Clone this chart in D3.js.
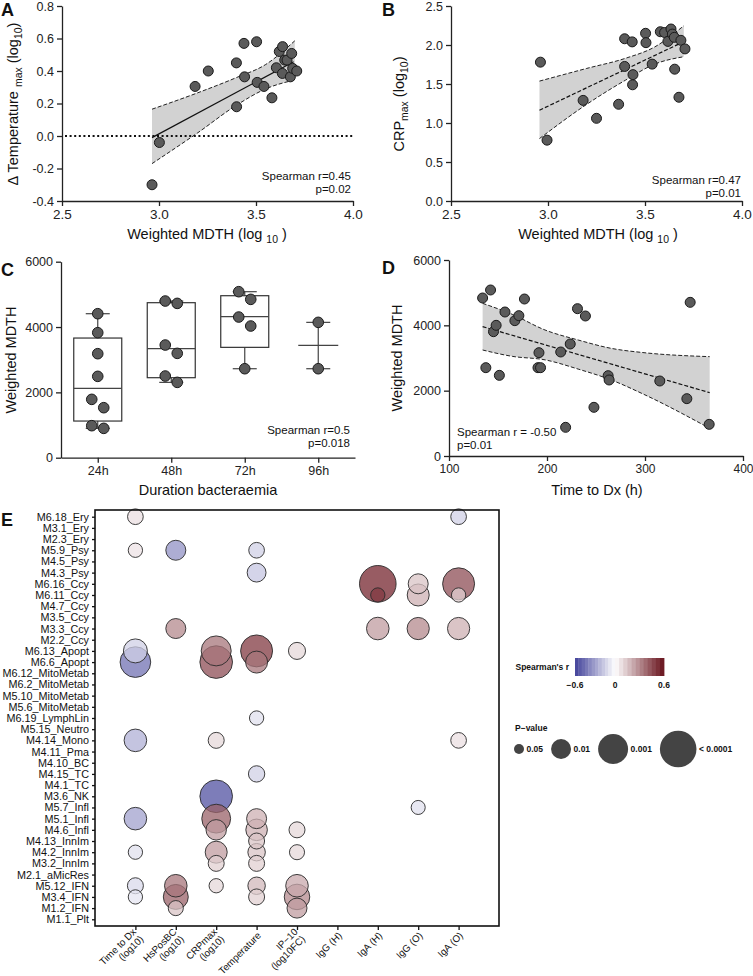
<!DOCTYPE html>
<html><head><meta charset="utf-8">
<script src="https://cdn.jsdelivr.net/npm/d3@7"></script>
<style>
body{margin:0;background:#fff}
svg{display:block;font-family:"Liberation Sans",Arial,Helvetica,sans-serif}
</style></head><body>
<svg id="c" width="753" height="976"></svg>
<script>
// ---------------- DATA ----------------
// Panel A
const aX = [2.964,3.002,3.186,3.254,3.399,3.400,3.438,3.441,3.503,3.506,3.541,3.582,3.605,3.620,3.637,3.636,3.648,3.660,3.677,3.684,3.689,3.710];
const aY = [-0.30,-0.04,0.305,0.40,0.45,0.18,0.57,0.364,0.58,0.33,0.305,0.235,0.42,0.52,0.55,0.385,0.467,0.467,0.364,0.508,0.416,0.40];
const aFitX = [2.964,3.694], aFitY = [-0.01,0.457];
const aBandX = [2.964,3.2,3.4,3.55,3.7];
const aBandHi = [0.165,0.266,0.36,0.44,0.586];
const aBandLo = [-0.17,0.02,0.19,0.29,0.345];
const abXTicks = [2.5,3.0,3.5,4.0];
const aYTicks = [-0.4,-0.2,0.0,0.2,0.4,0.6,0.8];
// Panel B
const bX = [2.961,2.995,3.181,3.25,3.364,3.395,3.395,3.434,3.438,3.436,3.503,3.505,3.537,3.579,3.601,3.618,3.634,3.641,3.651,3.653,3.675,3.685,3.706];
const bY = [1.78,0.78,1.29,1.06,1.24,2.08,1.725,2.04,1.62,1.49,2.15,2.03,1.755,2.17,2.16,2.046,2.205,2.14,2.098,1.69,1.33,2.06,1.95];
const bFitX = [2.956,3.70], bFitY = [1.164,2.043];
const bBandX = [2.956,3.2,3.4,3.55,3.7];
const bBandHi = [1.537,1.70,1.83,1.975,2.247];
const bBandLo = [0.80,1.24,1.55,1.755,1.85];
const bYTicks = [0,0.5,1.0,1.5,2.0,2.5];
// Panel C
const cCats = ["24h","48h","72h","96h"];
const cVals = [
  [4408,3827,3184,2490,1786,1531,980,898],
  [4796,4724,3449,3194,2500,2306],
  [5082,4847,4306,4031,2724],
  [4143,2724]
];
const cQ1 = [1122,2449,3378,null];
const cMed = [2122,3337,4316,3439];
const cQ3 = [3663,4745,4959,null];
const cMin = [898,2306,2724,2724];
const cMax = [4408,4796,5082,4143];
const cdYTicks = [0,2000,4000,6000];
// Panel D
const dX = [134.3,142.4,137.6,145.4,148.1,151.4,157.1,167.2,171.3,177.0,191.8,190.8,193.4,214.0,223.7,219.0,231.1,239.2,247.9,262.4,263.4,315.1,342.7,346.1,365.5];
const dY = [4837,5082,2704,3806,4000,2469,4408,4143,4296,4806,3163,2704,2704,3184,3429,878,4510,4286,1490,2459,2327,2296,1755,4704,969];
const dFitX = [134.3,366], dFitY = [3959,1939];
const dBandX = [134.3,164.5,198,231.8,265.4,299,366];
const dBandHi = [4673,4337,3857,3551,3296,3163,3041];
const dBandLo = [3245,3051,2943,2661,2330,1885,847];
const dXTicks = [100,200,300,400];
// Panel E
const eRows = ["M6.18_Ery","M3.1_Ery","M2.3_Ery","M5.9_Psy","M4.5_Psy","M4.3_Psy","M6.16_Ccy","M6.11_Ccy","M4.7_Ccy","M3.5_Ccy","M3.3_Ccy","M2.2_Ccy","M6.13_Apopt","M6.6_Apopt","M6.12_MitoMetab","M6.2_MitoMetab","M5.10_MitoMetab","M5.6_MitoMetab","M6.19_LymphLin","M5.15_Neutro","M4.14_Mono","M4.11_Pma","M4.10_BC","M4.15_TC","M4.1_TC","M3.6_NK","M5.7_Infl","M5.1_Infl","M4.6_Infl","M4.13_InnIm","M4.2_InnIm","M3.2_InnIm","M2.1_aMicRes","M5.12_IFN","M3.4_IFN","M1.2_IFN","M1.1_Plt"];
const eCols = ["Time to Dx","HsPosBC","CRPmax","Temperature","IP\u221210","IgG (H)","IgA (H)","IgG (O)","IgA (O)"];
const eColSub = ["(log10)","(log10)","(log10)","","(log10FC)","","","",""];
const eBubRow = ["M6.18_Ery","M6.18_Ery","M5.9_Psy","M5.9_Psy","M5.9_Psy","M4.3_Psy","M6.16_Ccy","M6.16_Ccy","M6.16_Ccy","M6.11_Ccy","M6.11_Ccy","M6.11_Ccy","M3.3_Ccy","M3.3_Ccy","M3.3_Ccy","M3.3_Ccy","M6.13_Apopt","M6.13_Apopt","M6.13_Apopt","M6.13_Apopt","M6.6_Apopt","M6.6_Apopt","M6.6_Apopt","M6.19_LymphLin","M4.14_Mono","M4.14_Mono","M4.14_Mono","M4.15_TC","M3.6_NK","M5.7_Infl","M5.1_Infl","M5.1_Infl","M5.1_Infl","M4.6_Infl","M4.6_Infl","M4.6_Infl","M4.13_InnIm","M4.2_InnIm","M4.2_InnIm","M4.2_InnIm","M4.2_InnIm","M3.2_InnIm","M3.2_InnIm","M5.12_IFN","M5.12_IFN","M5.12_IFN","M5.12_IFN","M5.12_IFN","M3.4_IFN","M3.4_IFN","M3.4_IFN","M3.4_IFN","M1.2_IFN","M1.2_IFN"];
const eBubCol = ["Time to Dx","IgA (O)","Time to Dx","HsPosBC","Temperature","Temperature","IgA (H)","IgG (O)","IgA (O)","IgA (H)","IgG (O)","IgA (O)","HsPosBC","IgA (H)","IgG (O)","IgA (O)","Time to Dx","CRPmax","Temperature","IP\u221210","Time to Dx","CRPmax","Temperature","Temperature","Time to Dx","CRPmax","IgA (O)","Temperature","CRPmax","IgG (O)","Time to Dx","CRPmax","Temperature","CRPmax","Temperature","IP\u221210","Temperature","Time to Dx","CRPmax","Temperature","IP\u221210","CRPmax","Temperature","Time to Dx","HsPosBC","CRPmax","Temperature","IP\u221210","Time to Dx","HsPosBC","Temperature","IP\u221210","HsPosBC","IP\u221210"];
const eBubR = [0.08,-0.15,0.07,-0.35,-0.15,-0.18,0.55,0.15,0.45,0.5,0.2,0.12,0.3,0.25,0.3,0.2,-0.15,0.35,0.5,0.1,-0.45,0.45,0.35,-0.1,-0.25,0.1,0.08,-0.15,-0.55,-0.1,-0.3,0.4,0.2,0.25,0.2,0.1,0.15,-0.1,0.25,0.15,0.1,0.12,0.12,-0.12,0.35,0.1,0.18,0.22,-0.08,0.4,0.12,0.3,0.15,0.25];
const eBubP = [0.02,0.02,0.025,0.01,0.02,0.012,0.0001,0.01,0.0005,0.025,0.0063,0.025,0.01,0.0055,0.006,0.006,0.004,0.001,0.0005,0.016,0.0008,0.0004,0.0063,0.025,0.0055,0.019,0.02,0.018,0.0004,0.026,0.0055,0.0013,0.01,0.009,0.007,0.019,0.019,0.025,0.0063,0.015,0.022,0.019,0.019,0.019,0.0055,0.025,0.015,0.0055,0.025,0.0032,0.019,0.0028,0.022,0.01];
const legP = [0.05,0.01,0.001,0.0001];
const legPLabels = ["0.05","0.01","0.001","< 0.0001"];
const legRTicks = [-0.6,0,0.6];
const legRLabels = ["\u22120.6","0","0.6"];

// ---------------- DRAW ----------------
const FONT = '"Liberation Sans", Arial, Helvetica, sans-serif';
const svg = d3.select("#c");
const INK = "#222";

function styleAxis(g, fs){
  g.select(".domain").attr("stroke",INK).attr("stroke-width",1.3);
  g.selectAll(".tick line").attr("stroke",INK).attr("stroke-width",1.3);
  g.selectAll(".tick text").attr("fill",INK).style("font-size",fs+"px").style("font-family",FONT);
}
function rich(sel, parts, fs){
  let prev=false;
  parts.forEach(([t,sub])=>{
    const ts = sel.append("tspan").text(t);
    if(sub){ ts.style("font-size",(fs*0.72)+"px"); if(!prev) ts.attr("dy", fs*0.3); }
    else if(prev){ ts.attr("dy", -fs*0.3); }
    prev=sub;
  });
}
function panelLabel(t,x,y){
  svg.append("text").attr("x",x).attr("y",y).text(t).style("font-size","18px").style("font-weight","bold").attr("fill","#111");
}
function scatterPanel(g, xs, ys, X, Y, r){
  g.selectAll("circle.pt").data(xs).join("circle").attr("class","pt")
    .attr("cx",(d)=>X(d)).attr("cy",(d,i)=>Y(ys[i])).attr("r",r)
    .attr("fill","#5a5a5a").attr("stroke","#1a1a1a").attr("stroke-width",1);
}
function band(g, bx, lo, hi, X, Y){
  const idx = d3.range(bx.length);
  g.append("path").datum(idx).attr("fill","#d2d2d2")
    .attr("d", d3.area().x(i=>X(bx[i])).y0(i=>Y(lo[i])).y1(i=>Y(hi[i])).curve(d3.curveMonotoneX));
  [lo,hi].forEach(arr=>{
    g.append("path").datum(idx).attr("fill","none").attr("stroke","#222").attr("stroke-width",1)
      .attr("stroke-dasharray","4,2")
      .attr("d", d3.line().x(i=>X(bx[i])).y(i=>Y(arr[i])).curve(d3.curveMonotoneX));
  });
}
function fitLine(g, fx, fy, X, Y, dashed){
  g.append("line").attr("x1",X(fx[0])).attr("x2",X(fx[1])).attr("y1",Y(fy[0])).attr("y2",Y(fy[1]))
    .attr("stroke","#111").attr("stroke-width",1.2).attr("stroke-dasharray",dashed?"4,2":null);
}
function annot(g, x, y, lines, anchor){
  lines.forEach((t,i)=>g.append("text").attr("x",x).attr("y",y+i*12.5).attr("text-anchor",anchor)
    .text(t).style("font-size","11.5px").attr("fill","#111"));
}
function yTitle(g, x, yc, parts, fs){
  const t = g.append("text").attr("transform",`translate(${x},${yc}) rotate(-90)`).attr("text-anchor","middle")
    .style("font-size",fs+"px").attr("fill","#111");
  rich(t, parts, fs);
}
function xTitle(g, xc, y, parts, fs){
  const t = g.append("text").attr("x",xc).attr("y",y).attr("text-anchor","middle")
    .style("font-size",fs+"px").attr("fill","#111");
  rich(t, parts, fs);
}
const f1 = d=>d.toFixed(1);

// ---- Panel A ----
{
  const g = svg.append("g");
  const X = d3.scaleLinear().domain([2.5,4]).range([62,353]);
  const Y = d3.scaleLinear().domain([-0.4,0.8]).range([201,6]);
  band(g, aBandX, aBandLo, aBandHi, X, Y);
  g.append("line").attr("x1",X(2.5)+3).attr("x2",X(4)).attr("y1",Y(0)).attr("y2",Y(0))
    .attr("stroke","#111").attr("stroke-width",1.8).attr("stroke-dasharray","2,2.6");
  fitLine(g, aFitX, aFitY, X, Y, false);
  scatterPanel(g, aX, aY, X, Y, 5);
  const gx = g.append("g").attr("transform","translate(0,201)").call(d3.axisBottom(X).tickValues(abXTicks).tickFormat(f1).tickSize(5).tickSizeOuter(0).tickPadding(3));
  styleAxis(gx, 13.5);
  const gy = g.append("g").attr("transform","translate(62,0)").call(d3.axisLeft(Y).tickValues(aYTicks).tickFormat(f1).tickSize(5).tickSizeOuter(0).tickPadding(3));
  styleAxis(gy, 12.5);
  annot(g, 351, 180, ["Spearman r=0.45","p=0.02"], "end");
  yTitle(g, 18, 104, [["\u0394 Temperature ",0],["max",1],[" (log",0],["10",1],[")",0]], 14.5);
  xTitle(g, 207, 239, [["Weighted MDTH (log ",0],["10",1],[" )",0]], 14.5);
  panelLabel("A", 1, 16);
}
// ---- Panel B ----
{
  const g = svg.append("g");
  const X = d3.scaleLinear().domain([2.5,4]).range([451,742]);
  const Y = d3.scaleLinear().domain([0,2.5]).range([201,6]);
  band(g, bBandX, bBandLo, bBandHi, X, Y);
  fitLine(g, bFitX, bFitY, X, Y, true);
  scatterPanel(g, bX, bY, X, Y, 5);
  const gx = g.append("g").attr("transform","translate(0,201)").call(d3.axisBottom(X).tickValues(abXTicks).tickFormat(f1).tickSize(5).tickSizeOuter(0).tickPadding(3));
  styleAxis(gx, 13.5);
  const gy = g.append("g").attr("transform","translate(451,0)").call(d3.axisLeft(Y).tickValues(bYTicks).tickFormat(f1).tickSize(5).tickSizeOuter(0).tickPadding(3));
  styleAxis(gy, 12.5);
  annot(g, 741, 184, ["Spearman r=0.47","p=0.01"], "end");
  yTitle(g, 404, 104, [["CRP",0],["max",1],[" (log",0],["10",1],[")",0]], 14.5);
  xTitle(g, 598, 239, [["Weighted MDTH (log ",0],["10",1],[" )",0]], 14.5);
  panelLabel("B", 382, 16);
}
// ---- Panel C ----
{
  const g = svg.append("g");
  const X = d3.scalePoint().domain(cCats).range([61,355]).padding(0.5);
  const Y = d3.scaleLinear().domain([0,6000]).range([457.7,261.7]);
  const BW = 48, CW = 24, MW = 40, R = 5.3;
  cCats.forEach((c,i)=>{
    const cx = X(c);
    if(cQ1[i]!==null){
      g.append("line").attr("x1",cx).attr("x2",cx).attr("y1",Y(cQ3[i])).attr("y2",Y(cMax[i])).attr("stroke","#444").attr("stroke-width",1.2);
      g.append("line").attr("x1",cx).attr("x2",cx).attr("y1",Y(cQ1[i])).attr("y2",Y(cMin[i])).attr("stroke","#444").attr("stroke-width",1.2);
      g.append("rect").attr("x",cx-BW/2).attr("y",Y(cQ3[i])).attr("width",BW).attr("height",Y(cQ1[i])-Y(cQ3[i]))
        .attr("fill","#fff").attr("stroke","#333").attr("stroke-width",1.2);
      g.append("line").attr("x1",cx-BW/2).attr("x2",cx+BW/2).attr("y1",Y(cMed[i])).attr("y2",Y(cMed[i])).attr("stroke","#444").attr("stroke-width",1.2);
    } else {
      g.append("line").attr("x1",cx).attr("x2",cx).attr("y1",Y(cMax[i])).attr("y2",Y(cMin[i])).attr("stroke","#444").attr("stroke-width",1.2);
      g.append("line").attr("x1",cx-MW/2).attr("x2",cx+MW/2).attr("y1",Y(cMed[i])).attr("y2",Y(cMed[i])).attr("stroke","#444").attr("stroke-width",1.2);
    }
    [cMin[i],cMax[i]].forEach(v=>g.append("line").attr("x1",cx-CW/2).attr("x2",cx+CW/2).attr("y1",Y(v)).attr("y2",Y(v)).attr("stroke","#444").attr("stroke-width",1.2));
    const vals = cVals[i];
    const order = vals.map((v,k)=>k).sort((a,b)=>vals[b]-vals[a]);
    const off = new Array(vals.length).fill(0);
    let k=0;
    while(k<order.length){
      let j=k;
      while(j+1<order.length && Math.abs(Y(vals[order[j+1]])-Y(vals[order[j]]))<2*R) j++;
      const n=j-k+1;
      for(let m=0;m<n;m++) off[order[k+m]] = n===1?0:(m/(n-1)-0.5)*12;
      k=j+1;
    }
    g.selectAll(null).data(vals).join("circle").attr("cx",(d,k)=>cx+off[k]).attr("cy",d=>Y(d)).attr("r",R)
      .attr("fill","#5a5a5a").attr("stroke","#1a1a1a").attr("stroke-width",1);
  });
  const gx = g.append("g").attr("transform","translate(0,457.7)").call(d3.axisBottom(X).tickSize(5).tickSizeOuter(0).tickPadding(3));
  styleAxis(gx, 12.5);
  const gy = g.append("g").attr("transform","translate(61,0)").call(d3.axisLeft(Y).tickValues(cdYTicks).tickFormat(d=>String(d)).tickSize(5).tickSizeOuter(0).tickPadding(3));
  styleAxis(gy, 12.5);
  annot(g, 350, 434, ["Spearman r=0.5","p=0.018"], "end");
  yTitle(g, 16, 360, [["Weighted MDTH",0]], 14.5);
  xTitle(g, 208, 495, [["Duration bacteraemia",0]], 14.5);
  panelLabel("C", 1, 276);
}
// ---- Panel D ----
{
  const g = svg.append("g");
  const X = d3.scaleLinear().domain([100,400]).range([449,743]);
  const Y = d3.scaleLinear().domain([0,6000]).range([456,260]);
  band(g, dBandX, dBandLo, dBandHi, X, Y);
  fitLine(g, dFitX, dFitY, X, Y, true);
  scatterPanel(g, dX, dY, X, Y, 5);
  const gx = g.append("g").attr("transform","translate(0,456)").call(d3.axisBottom(X).tickValues(dXTicks).tickSize(5).tickSizeOuter(0).tickPadding(3));
  styleAxis(gx, 12);
  const gy = g.append("g").attr("transform","translate(449,0)").call(d3.axisLeft(Y).tickValues(cdYTicks).tickFormat(d=>String(d)).tickSize(5).tickSizeOuter(0).tickPadding(3));
  styleAxis(gy, 12.5);
  annot(g, 457, 436, ["Spearman r = -0.50","p=0.01"], "start");
  yTitle(g, 402, 358, [["Weighted MDTH",0]], 14.5);
  xTitle(g, 597, 495, [["Time to Dx (h)",0]], 14.5);
  panelLabel("D", 382, 274);
}
// ---- Panel E ----
{
  const g = svg.append("g");
  const X = d3.scalePoint().domain(eCols).range([95,499]).padding(1);
  const Y = d3.scalePoint().domain(eRows).range([510,926]).padding(0.6);
  const col = d3.scaleLinear().domain([-0.6,0,0.6]).range(["#42429a","#ffffff","#68121c"]).clamp(true);
  const rS = d3.scaleLinear().domain([1.301,2,3,4]).range([5,10,15,18.3]).clamp(true);
  const bubbles = eBubRow.map((r,i)=>({row:r,col:eBubCol[i],rho:eBubR[i],p:eBubP[i]}))
    .sort((a,b)=>a.p-b.p);
  g.selectAll("circle.b").data(bubbles).join("circle").attr("class","b")
    .attr("cx",d=>X(d.col)).attr("cy",d=>Y(d.row)).attr("r",d=>rS(-Math.log10(d.p)))
    .attr("fill",d=>col(d.rho)).attr("fill-opacity",0.75).attr("stroke","#2a2a2a").attr("stroke-width",0.9);
  g.append("rect").attr("x",95).attr("y",510).attr("width",404).attr("height",416)
    .attr("fill","none").attr("stroke","#111").attr("stroke-width",1.6);
  const gy = g.append("g").attr("transform","translate(95,0)").call(d3.axisLeft(Y).tickSize(3).tickPadding(3));
  gy.select(".domain").remove();
  gy.selectAll(".tick line").attr("stroke","#111").attr("stroke-width",1.3);
  gy.selectAll(".tick text").attr("fill","#111").style("font-size","10.8px").style("font-family",FONT);
  const gx = g.append("g").attr("transform","translate(0,926)").call(d3.axisBottom(X).tickSize(4).tickFormat(""));
  gx.select(".domain").remove();
  gx.selectAll(".tick line").attr("stroke","#111").attr("stroke-width",1.3);
  eCols.forEach((c,i)=>{
    const lines = eColSub[i] ? [c, eColSub[i]] : [c];
    const t = g.append("text").attr("transform",`translate(${X(c)+3},${926+8}) rotate(-45)`)
      .attr("text-anchor","end").style("font-size","9.8px").attr("fill","#111");
    lines.forEach((ln,k)=>t.append("tspan").attr("x",0).attr("y",0)
      .attr("dy",((k-(lines.length-1)/2)*1.05+0.3)+"em").text(ln));
  });
  panelLabel("E", 1, 526);

  // Legend: colour
  const LX = d3.scaleLinear().domain([-0.6,0,0.6]).range([575,615,664]);
  const N = 24, step = 1.2/N;
  const cells = d3.range(N).map(k=>-0.6+k*step);
  g.selectAll("rect.leg").data(cells).join("rect").attr("class","leg")
    .attr("x",d=>LX(d)).attr("y",658).attr("width",d=>LX(d+step)-LX(d)+0.4).attr("height",18)
    .attr("fill",d=>col(d+step/2));
  g.append("text").attr("x",569).attr("y",670).attr("text-anchor","end").text("Spearman's r")
    .style("font-size","8.5px").style("font-weight","bold").attr("fill","#111");
  legRTicks.forEach((v,i)=>g.append("text").attr("x",LX(v)).attr("y",688).attr("text-anchor","middle")
    .text(legRLabels[i]).style("font-size","8.5px").style("font-weight","bold").attr("fill","#111"));
  // Legend: size
  g.append("text").attr("x",515).attr("y",731).text("P\u2212value")
    .style("font-size","8.5px").style("font-weight","bold").attr("fill","#111");
  let lx = 514;
  legP.forEach((p,i)=>{
    const r = rS(-Math.log10(p));
    g.append("circle").attr("cx",lx+r).attr("cy",749).attr("r",r).attr("fill","#444");
    const t = g.append("text").attr("x",lx+2*r+2.5).attr("y",752).text(legPLabels[i])
      .style("font-size","8.5px").style("font-weight","bold").attr("fill","#111");
    lx = lx+2*r+2.5+t.node().getComputedTextLength()+8;
  });
}
</script></body></html>
